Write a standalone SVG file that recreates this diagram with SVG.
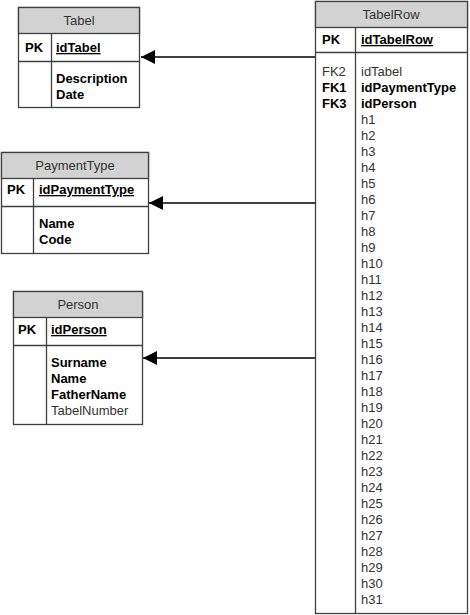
<svg xmlns="http://www.w3.org/2000/svg" width="470" height="615" viewBox="0 0 470 615">
<defs>
<style>
.box{fill:#ffffff;stroke:#404040;stroke-width:1.3}
.hdr{fill:#d2d2d2;stroke:#404040;stroke-width:1.3}
.ln{stroke:#404040;stroke-width:1.3;fill:none}
text{font-family:"Liberation Sans",Arial,sans-serif;font-size:13px}
.h{fill:#333333;text-anchor:middle}
.b{font-weight:bold;fill:#000000}
.r{fill:#333333}
.u{text-decoration:underline}
.conn{stroke:#000000;stroke-width:1.5;fill:none}
</style>
<marker id="arr" viewBox="0 0 14 14" refX="14" refY="7" markerWidth="14" markerHeight="14" markerUnits="userSpaceOnUse" orient="auto">
<path d="M0,0 L14,7 L0,14 Z" fill="#000000"/>
</marker>
</defs>
<rect width="470" height="615" fill="#ffffff"/>

<g id="connectors">
<path class="conn" d="M315,57 L141,57" marker-end="url(#arr)" transform="rotate(0)"/>
<path class="conn" d="M315,203 L149,203" marker-end="url(#arr)"/>
<path class="conn" d="M315,358 L143,358" marker-end="url(#arr)"/>
</g>

<g id="Tabel">
<rect class="box" x="18.5" y="7.5" width="121" height="100"/>
<rect class="hdr" x="18.5" y="7.5" width="121" height="26"/>
<line class="ln" x1="18.5" y1="61.5" x2="139.5" y2="61.5"/>
<line class="ln" x1="51.5" y1="33.5" x2="51.5" y2="107.5"/>
<text class="h" x="79" y="25">Tabel</text>
<text class="b" x="25" y="52">PK</text>
<text class="b u" x="56" y="52">idTabel</text>
<text class="b" x="56" y="83">Description</text>
<text class="b" x="56" y="99">Date</text>
</g>

<g id="PaymentType">
<rect class="box" x="1.5" y="152.5" width="147" height="101"/>
<rect class="hdr" x="1.5" y="152.5" width="147" height="26"/>
<line class="ln" x1="1.5" y1="206.5" x2="148.5" y2="206.5"/>
<line class="ln" x1="33.5" y1="178.5" x2="33.5" y2="253.5"/>
<text class="h" x="75" y="170">PaymentType</text>
<text class="b" x="7" y="194">PK</text>
<text class="b u" x="39" y="194">idPaymentType</text>
<text class="b" x="39" y="228">Name</text>
<text class="b" x="39" y="244">Code</text>
</g>

<g id="Person">
<rect class="box" x="13.5" y="291.5" width="129" height="133"/>
<rect class="hdr" x="13.5" y="291.5" width="129" height="26"/>
<line class="ln" x1="13.5" y1="345.5" x2="142.5" y2="345.5"/>
<line class="ln" x1="46.5" y1="317.5" x2="46.5" y2="424.5"/>
<text class="h" x="78" y="309">Person</text>
<text class="b" x="18" y="334">PK</text>
<text class="b u" x="51" y="334">idPerson</text>
<text class="b" x="51" y="367">Surname</text>
<text class="b" x="51" y="383">Name</text>
<text class="b" x="51" y="399">FatherName</text>
<text class="r" x="51" y="415">TabelNumber</text>
</g>

<g id="TabelRow">
<rect class="box" x="315.5" y="1.5" width="152" height="612"/>
<rect class="hdr" x="315.5" y="1.5" width="152" height="26"/>
<line class="ln" x1="315.5" y1="52.5" x2="467.5" y2="52.5"/>
<line class="ln" x1="355.5" y1="27.5" x2="355.5" y2="613.5"/>
<text class="h" x="391" y="19">TabelRow</text>
<text class="b" x="322" y="44">PK</text>
<text class="b u" x="361" y="44">idTabelRow</text>
<text class="r" x="322" y="76">FK2</text>
<text class="r" x="361" y="76">idTabel</text>
<text class="b" x="322" y="92">FK1</text>
<text class="b" x="361" y="92">idPaymentType</text>
<text class="b" x="322" y="108">FK3</text>
<text class="b" x="361" y="108">idPerson</text>
<text class="r" x="361" y="124">h1</text>
<text class="r" x="361" y="140">h2</text>
<text class="r" x="361" y="156">h3</text>
<text class="r" x="361" y="172">h4</text>
<text class="r" x="361" y="188">h5</text>
<text class="r" x="361" y="204">h6</text>
<text class="r" x="361" y="220">h7</text>
<text class="r" x="361" y="236">h8</text>
<text class="r" x="361" y="252">h9</text>
<text class="r" x="361" y="268">h10</text>
<text class="r" x="361" y="284">h11</text>
<text class="r" x="361" y="300">h12</text>
<text class="r" x="361" y="316">h13</text>
<text class="r" x="361" y="332">h14</text>
<text class="r" x="361" y="348">h15</text>
<text class="r" x="361" y="364">h16</text>
<text class="r" x="361" y="380">h17</text>
<text class="r" x="361" y="396">h18</text>
<text class="r" x="361" y="412">h19</text>
<text class="r" x="361" y="428">h20</text>
<text class="r" x="361" y="444">h21</text>
<text class="r" x="361" y="460">h22</text>
<text class="r" x="361" y="476">h23</text>
<text class="r" x="361" y="492">h24</text>
<text class="r" x="361" y="508">h25</text>
<text class="r" x="361" y="524">h26</text>
<text class="r" x="361" y="540">h27</text>
<text class="r" x="361" y="556">h28</text>
<text class="r" x="361" y="572">h29</text>
<text class="r" x="361" y="588">h30</text>
<text class="r" x="361" y="604">h31</text>
</g>
</svg>
